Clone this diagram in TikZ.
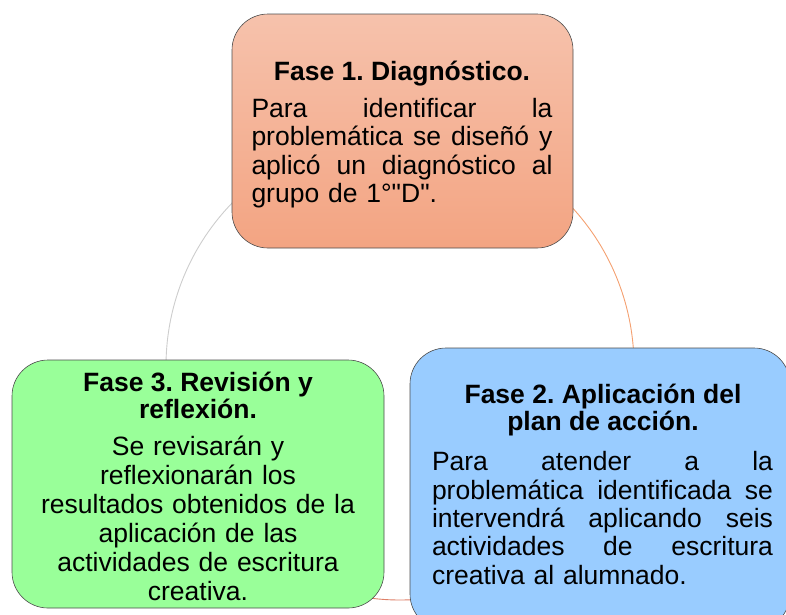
\documentclass[tikz,border=0pt]{standalone}
\usepackage{fontspec}
\setmainfont{Liberation Sans}[Ligatures=TeXOff]
\usetikzlibrary{positioning}

\definecolor{faseunotop}{RGB}{246,194,172}
\definecolor{faseunobot}{RGB}{243,164,130}
\definecolor{fasedos}{RGB}{153,204,255}
\definecolor{fasetres}{RGB}{153,255,153}
\definecolor{arcgris}{RGB}{205,205,205}
\definecolor{arcnaranja}{RGB}{244,160,112}
\definecolor{arcrojo}{RGB}{222,128,104}

% one justified line of a box text
\newcommand{\jline}[1]{{\spaceskip=0pt\xspaceskip=0pt\makebox[\hsize][s]{#1}}}

\tikzset{
  fasebox/.style={draw=gray!60!black, line width=0.6pt, rounded corners=36pt},
  titletext/.style={font=\fontsize{26.5}{27}\selectfont\bfseries, align=center, inner sep=0pt},
  bodytext/.style={font=\fontsize{26.5}{28.3}\selectfont, inner sep=0pt},
}

\begin{document}
\frenchspacing
\begin{tikzpicture}[x=1pt, y=-1pt]
  \useasboundingbox (0,0) rectangle (786,614);
  \clip (0,0) rectangle (786,614);
  % circle behind the three phases
  \coordinate (c) at (400,366);
  \draw[arcgris, line width=0.9pt] (c) ++(175:234) arc[start angle=175, end angle=232, radius=234];
  \draw[arcnaranja, line width=0.9pt] (c) ++(308:234) arc[start angle=308, end angle=365, radius=234];
  \draw[arcrojo, line width=0.9pt] (c) ++(60:234) arc[start angle=60, end angle=120, radius=234];

  % phase boxes
  \node[fasebox, top color=faseunotop, bottom color=faseunobot,
        minimum width=341pt, minimum height=234pt] (f1) at (402.5,131) {};
  \node[fasebox, fill=fasetres, minimum width=372pt, minimum height=248pt] (f3) at (198,484) {};
  \node[fasebox, fill=fasedos, minimum width=380pt, minimum height=282pt] (f2) at (600,489) {};

  % texts
  \node[titletext] (t1) at (402,74) {Fase 1. Diagnóstico.};
  \node[bodytext, text width=301pt, align=left] (b1) at (402,153)
    {\jline{Para identificar la}\\ \jline{problemática se diseñó y}\\
     \jline{aplicó un diagnóstico al}\\ grupo de 1°"D".};

  \node[titletext] (t2) at (603,410) {Fase 2. Aplicación del\\ plan de acción.};
  \node[bodytext, text width=341pt, align=left] (b2) at (602.5,518)
    {\jline{Para atender a la}\\ \jline{problemática identificada se}\\
     \jline{intervendrá aplicando seis}\\ \jline{actividades de escritura}\\
     creativa al alumnado.};

  \node[titletext] (t3) at (198,395) {Fase 3. Revisión y\\ reflexión.};
  \node[bodytext, text width=330pt, align=center, font=\fontsize{26.5}{29}\selectfont] (b3) at (198,518)
    {Se revisarán y\\ reflexionarán los\\ resultados obtenidos de la\\
     aplicación de las\\ actividades de escritura\\ creativa.};
\end{tikzpicture}
\end{document}
